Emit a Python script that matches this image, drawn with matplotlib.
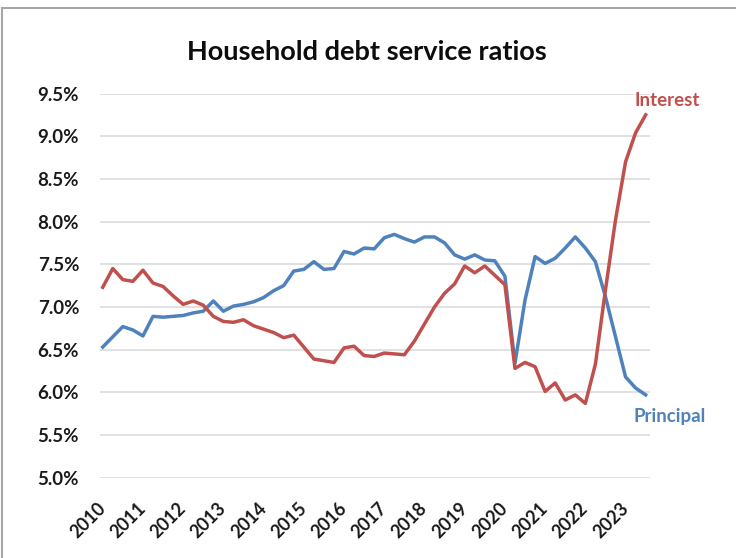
import matplotlib
matplotlib.use("Agg")
import matplotlib.pyplot as plt
from matplotlib.patches import Rectangle

plt.rcParams["font.family"] = ["Lato", "DejaVu Sans"]

# Quarterly household debt service ratios (% of disposable income), 2010 Q1 onward
interest = [7.23, 7.45, 7.32, 7.30, 7.43, 7.28, 7.24, 7.13, 7.03, 7.07,
            7.02, 6.89, 6.83, 6.82, 6.85, 6.78, 6.74, 6.70, 6.64, 6.67,
            6.53, 6.39, 6.37, 6.35, 6.52, 6.54, 6.43, 6.42, 6.46, 6.45,
            6.44, 6.60, 6.80, 7.00, 7.16, 7.27, 7.48, 7.40, 7.48, 7.37,
            7.26, 6.28, 6.35, 6.30, 6.01, 6.11, 5.91, 5.97, 5.87, 6.33,
            7.20, 8.02, 8.70, 9.04, 9.25]
principal = [6.53, 6.65, 6.77, 6.73, 6.66, 6.89, 6.88, 6.89, 6.90, 6.93,
             6.95, 7.07, 6.95, 7.01, 7.03, 7.06, 7.11, 7.19, 7.25, 7.42,
             7.44, 7.53, 7.44, 7.45, 7.65, 7.62, 7.69, 7.68, 7.81, 7.85,
             7.80, 7.76, 7.82, 7.82, 7.75, 7.61, 7.56, 7.61, 7.55, 7.54,
             7.36, 6.34, 7.08, 7.59, 7.51, 7.57, 7.69, 7.82, 7.69, 7.53,
             7.12, 6.65, 6.18, 6.05, 5.97]
years = [str(y) for y in range(2010, 2024)]
y_ticks = [5.0, 5.5, 6.0, 6.5, 7.0, 7.5, 8.0, 8.5, 9.0, 9.5]

RED = "#C0504D"
BLUE = "#4F81BD"
INK = "#1A1A1A"

fig = plt.figure(figsize=(7.36, 5.58), dpi=100)
fig.patches.append(Rectangle((2 / 736, -0.05), 1.1, 1.05 - 8 / 558,
                             transform=fig.transFigure, fill=False,
                             edgecolor="#A6A6A6", linewidth=1.5))

ax = fig.add_axes([100 / 736, 80.3 / 558, 550 / 736, 384.2 / 558])
q = list(range(len(interest)))
ax.plot(q, principal, color=BLUE, linewidth=2.5, solid_joinstyle="round")
ax.plot(q, interest, color=RED, linewidth=2.5, solid_joinstyle="round")

ax.set_xlim(-0.27, 54.43)
ax.set_ylim(5.0, 9.5)
ax.set_yticks(y_ticks)
ax.set_yticklabels([f"{v:.1f}%" for v in y_ticks], fontsize=13.5,
                   fontweight="bold", color=INK)
ax.set_xticks(range(0, 4 * len(years), 4))
ax.set_xticklabels(years, fontsize=13, fontweight="bold", color=INK,
                   rotation=45, ha="right", va="center",
                   rotation_mode="anchor")
ax.tick_params(axis="both", length=0)
ax.tick_params(axis="x", pad=20)
ax.tick_params(axis="y", pad=15)
ax.grid(axis="y", color="#D9D9D9", linewidth=1.1)
ax.set_axisbelow(True)
for s in ax.spines.values():
    s.set_visible(False)

ax.text(56.1, 9.42, "Interest", color=RED, fontsize=13.5, fontweight="bold",
        ha="center", va="center", clip_on=False)
ax.text(56.4, 5.72, "Principal", color=BLUE, fontsize=13.5, fontweight="bold",
        ha="center", va="center", clip_on=False)

fig.text(367 / 736, 1 - 52 / 558, "Household debt service ratios",
         fontsize=19.5, fontweight="bold", ha="center", va="center",
         color="#0D0D0D")

fig.savefig("out.png", dpi=100)
